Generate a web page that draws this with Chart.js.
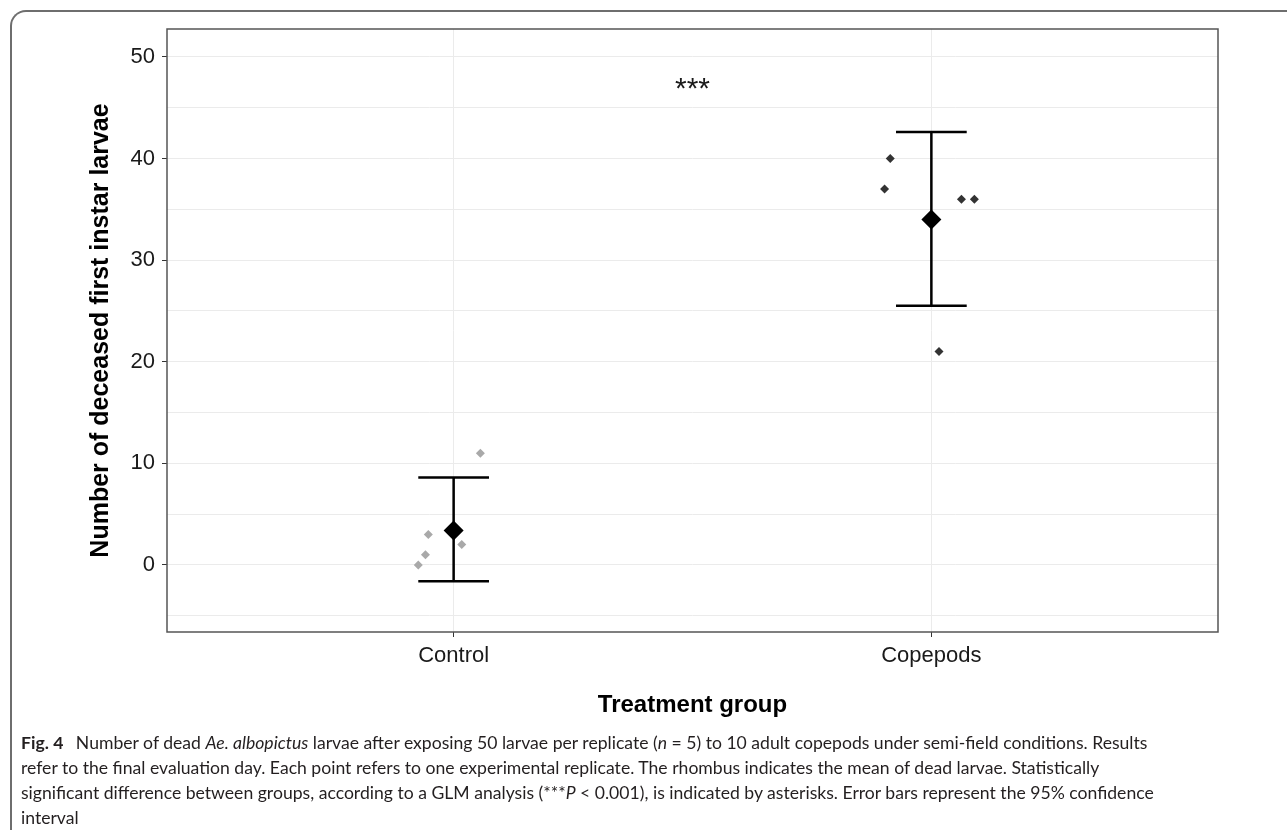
<!DOCTYPE html>
<html>
<head>
<meta charset="utf-8">
<script src="https://cdn.jsdelivr.net/npm/chart.js@4.4.1/dist/chart.umd.min.js"></script>
<style>
  body { margin: 0; background: #fff; width: 1287px; height: 830px; overflow: hidden; position: relative; }
  #frame {
    position: absolute; left: 10px; top: 10px; width: 1300px; height: 818px;
    border-top: 2px solid #6e6e6e; border-left: 2px solid #6e6e6e;
    border-top-left-radius: 16px;
  }
  #chartBox { position: absolute; left: 0; top: 0; width: 1287px; height: 740px; }
  #caption {
    position: absolute; left: 21px; top: 730px;
    font-family: "Lato", "Open Sans", sans-serif; font-size: 17.6px; line-height: 25px;
    color: #231f20; white-space: nowrap;
  }
  #caption b { font-weight: 700; margin-right: 8px; }
</style>
</head>
<body>
<div id="frame"></div>
<div id="chartBox"><canvas id="chart" width="1287" height="740"></canvas></div>
<div id="caption">
  <b>Fig. 4</b> Number of dead <i>Ae. albopictus</i> larvae after exposing 50 larvae per replicate (<i>n</i> = 5) to 10 adult copepods under semi-field conditions. Results<br>
  refer to the final evaluation day. Each point refers to one experimental replicate. The rhombus indicates the mean of dead larvae. Statistically<br>
  significant difference between groups, according to a GLM analysis (***<i>P</i> &lt; 0.001), is indicated by asterisks. Error bars represent the 95% confidence<br>
  interval
</div>
<script>
// groups on the x axis (discrete positions 1 and 2)
const groups = ['Control', 'Copepods'];
const groupPos = [1, 2];

// dead larvae per replicate
const controlValues = [11, 3, 1, 0, 2];
const copepodValues = [40, 37, 36, 36, 21];
// horizontal jitter of each replicate point (in category units)
const controlJitter = [0.056, -0.053, -0.059, -0.074, 0.017];
const copepodJitter = [-0.086, -0.098, 0.063, 0.090, 0.016];

// group means and 95% CI
const means = [3.4, 34];
const ciLow = [-1.6, 25.5];
const ciHigh = [8.6, 42.6];

// y axis ticks
const majorTicks = [0, 10, 20, 30, 40, 50];
const minorTicks = [-5, 5, 15, 25, 35, 45];

// significance label
const sigText = '***';
const sigPos = [1.5, 47.6];

const FONT = '"Liberation Sans", Arial, sans-serif';

function pts(values, jitter, pos) {
  return values.map((v, i) => ({ x: pos + jitter[i], y: v }));
}

const errorBars = {
  id: 'errorBars',
  afterDatasetsDraw(chart) {
    const { ctx, scales: { x, y } } = chart;
    const capHalf = 0.074;
    ctx.save();
    ctx.strokeStyle = '#000';
    ctx.lineWidth = 2.5;
    groupPos.forEach((p, i) => {
      const px = x.getPixelForValue(p);
      const yl = y.getPixelForValue(ciLow[i]);
      const yh = y.getPixelForValue(ciHigh[i]);
      const xl = x.getPixelForValue(p - capHalf);
      const xr = x.getPixelForValue(p + capHalf);
      ctx.beginPath();
      ctx.moveTo(px, yl); ctx.lineTo(px, yh);
      ctx.moveTo(xl, yl); ctx.lineTo(xr, yl);
      ctx.moveTo(xl, yh); ctx.lineTo(xr, yh);
      ctx.stroke();
    });
    ctx.restore();
  }
};

// panel border + significance stars
const panelExtras = {
  id: 'panelExtras',
  afterDraw(chart) {
    const { ctx, chartArea: a, scales: { x, y } } = chart;
    ctx.save();
    ctx.strokeStyle = '#555';
    ctx.lineWidth = 1.5;
    ctx.strokeRect(a.left, a.top, a.right - a.left, a.bottom - a.top);
    const size = 30;
    ctx.fillStyle = '#1a1a1a';
    ctx.font = size + 'px ' + FONT;
    ctx.textAlign = 'center';
    ctx.textBaseline = 'alphabetic';
    // asterisks sit high in the glyph box, shift baseline so the stars centre on the value
    ctx.fillText(sigText, x.getPixelForValue(sigPos[0]), y.getPixelForValue(sigPos[1]) + 0.57 * size);
    ctx.restore();
  }
};

new Chart(document.getElementById('chart').getContext('2d'), {
  type: 'scatter',
  data: {
    datasets: [
      {
        label: 'Control',
        data: pts(controlValues, controlJitter, groupPos[0]),
        pointStyle: 'rectRot',
        pointRadius: 4.5,
        backgroundColor: '#a9a9a9',
        borderWidth: 0
      },
      {
        label: 'Copepods',
        data: pts(copepodValues, copepodJitter, groupPos[1]),
        pointStyle: 'rectRot',
        pointRadius: 4.5,
        backgroundColor: '#333333',
        borderWidth: 0
      },
      {
        label: 'Mean',
        data: groupPos.map((p, i) => ({ x: p, y: means[i] })),
        pointStyle: 'rectRot',
        pointRadius: 10,
        backgroundColor: '#000',
        borderWidth: 0
      }
    ]
  },
  options: {
    responsive: false,
    animation: false,
    layout: { padding: { left: 0, top: 29, right: 69, bottom: 13 } },
    plugins: {
      legend: { display: false },
      tooltip: { enabled: false }
    },
    scales: {
      x: {
        type: 'linear',
        min: 0.4,
        max: 2.6,
        afterBuildTicks(scale) { scale.ticks = groupPos.map(v => ({ value: v })); },
        afterFit(scale) { scale.height = 95; },
        ticks: {
          callback: (v) => groups[groupPos.indexOf(v)] || '',
          color: '#1a1a1a',
          font: { family: FONT, size: 22 },
          padding: 6,
          maxRotation: 0
        },
        grid: { color: '#ebebeb', lineWidth: 1, tickLength: 5, tickColor: '#333' },
        border: { display: false },
        title: {
          display: true,
          text: 'Treatment group',
          color: '#000',
          font: { family: FONT, size: 24, weight: 'bold' },
          padding: { top: 0, bottom: 7 }
        }
      },
      y: {
        min: -6.6,
        max: 52.75,
        afterBuildTicks(scale) {
          scale.ticks = minorTicks.concat(majorTicks).sort((a, b) => a - b).map(v => ({ value: v }));
        },
        afterFit(scale) { scale.width = 167; },
        ticks: {
          callback: (v) => majorTicks.includes(v) ? String(v) : '',
          color: '#1a1a1a',
          font: { family: FONT, size: 22 },
          padding: 7
        },
        grid: {
          color: '#ebebeb',
          lineWidth: 1,
          tickLength: 5,
          tickColor: (c) => majorTicks.includes(c.tick && c.tick.value) ? '#333' : 'rgba(0,0,0,0)'
        },
        border: { display: false },
        title: {
          display: true,
          text: 'Number of deceased first instar larvae',
          color: '#000',
          font: { family: FONT, size: 25, weight: 'bold' },
          padding: { top: 86, bottom: 0 }
        }
      }
    }
  },
  plugins: [errorBars, panelExtras]
});
</script>
</body>
</html>
